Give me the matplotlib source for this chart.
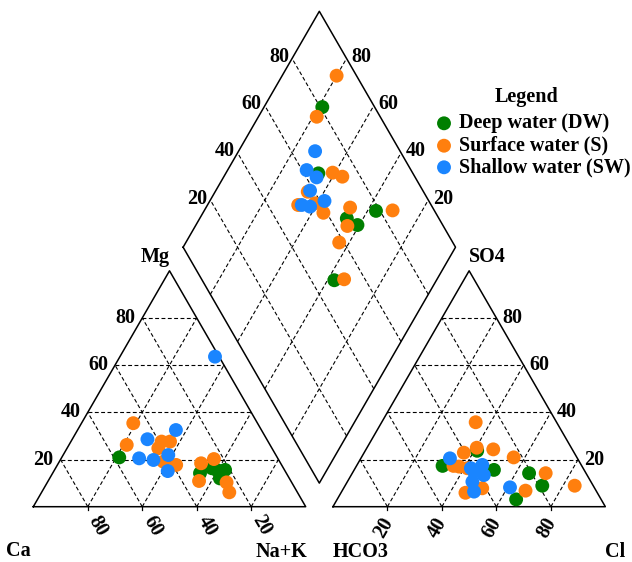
import numpy as np
import matplotlib
matplotlib.use("Agg")
import matplotlib.pyplot as plt

# ---------------- data (percent of meq) ----------------
# Cation triangle: Mg %, Na+K %
dw_mg = [20.9, 14.2, 15.6, 15.6, 12.0, 16.3]
dw_nak = [21.1, 54.1, 59.5, 62.6, 62.5, 57.4]
s_mg = [35.4, 26.2, 27.6, 27.6, 24.8, 19.1, 17.7, 18.4, 20.2, 10.9, 10.3, 6.1]
s_nak = [19.0, 21.2, 33.3, 36.4, 33.5, 38.2, 43.6, 52.4, 56.2, 55.4, 65.8, 68.9]
sw_mg = [63.6, 32.5, 28.6, 20.5, 19.8, 21.9, 15.1]
sw_nak = [34.9, 36.1, 27.6, 28.6, 34.2, 38.6, 41.8]

# Anion triangle: SO4 %, Cl %
dw_so4 = [23.7, 17.3, 15.6, 14.2, 8.9, 3.1]
dw_cl = [41.1, 31.6, 51.3, 64.9, 72.4, 65.7]
s_so4 = [35.8, 25.0, 22.9, 24.3, 20.9, 17.3, 17.0, 16.3, 7.8, 5.9, 14.2, 6.8, 8.9]
s_cl = [34.5, 40.3, 36.6, 46.7, 55.9, 35.6, 37.8, 41.2, 50.9, 45.7, 71.0, 67.3, 84.3]
sw_so4 = [20.5, 16.3, 17.7, 14.8, 13.4, 10.6, 6.4, 8.2]
sw_cl = [32.7, 42.5, 46.0, 44.4, 48.7, 45.9, 48.6, 60.9]

# Diamond: Ca+Mg %, SO4+Cl %
dw_camg = [78.6, 66.0, 46.0, 40.7, 36.9, 37.5]
dw_sc = [80.8, 65.3, 66.2, 68.7, 78.5, 48.5]
s_camg = [80.0, 78.6, 60.9, 56.5, 66.0, 66.7, 60.9, 55.8, 47.1, 44.2, 30.9, 43.7, 34.1]
s_sc = [92.7, 76.7, 70.7, 73.4, 57.5, 51.2, 57.7, 58.8, 69.7, 64.8, 84.7, 58.3, 52.3]
sw_camg = [71.9, 71.0, 65.8, 65.4, 65.4, 62.0, 57.9]
sw_sc = [68.8, 61.7, 63.8, 58.6, 52.5, 55.2, 61.7]

ticks = [20, 40, 60, 80]
groups = ["Deep water (DW)", "Surface water (S)", "Shallow water (SW)"]
colors = ["#007f00", "#ff7f0e", "#1a85ff"]

# ---------------- geometry ----------------
H = np.sqrt(3) / 2
OFF = 1.1


def cat_xy(mg, nak):
    mg = np.asarray(mg) / 100.0
    nak = np.asarray(nak) / 100.0
    return nak + mg / 2, mg * H


def an_xy(so4, cl):
    so4 = np.asarray(so4) / 100.0
    cl = np.asarray(cl) / 100.0
    return OFF + cl + so4 / 2, so4 * H


def dia_xy(camg, sc):
    camg = np.asarray(camg) / 100.0
    sc = np.asarray(sc) / 100.0
    return (OFF + 1 - camg + sc) / 2, H * (camg + sc + OFF - 1)


S = 272.4  # px per unit
X0, Y0 = 33.3, 506.7


def P(px, py):
    return (px - X0) / S, (Y0 - py) / S


fig = plt.figure(figsize=(6.32, 5.62), dpi=100)
ax = fig.add_axes([0, 0, 1, 1])
ax.set_xlim(P(0, 0)[0], P(632, 0)[0])
ax.set_ylim(P(0, 562)[1], P(0, 0)[1])
ax.axis("off")

FONT = dict(family="Liberation Serif", fontweight="bold", fontsize=14.5)
LW = 1.1
GRID = dict(color="black", lw=0.8, ls=(0, (3.5, 2.2)))
px = 1.0 / S

# ---------- outlines ----------
def line(p, q, **kw):
    ax.plot([p[0], q[0]], [p[1], q[1]], **kw)

# cation triangle
xs, ys = cat_xy([0, 0, 100, 0], [0, 100, 0, 0])
ax.plot(xs, ys, color="black", lw=LW)
# anion triangle
xs, ys = an_xy([0, 0, 100, 0], [0, 100, 0, 0])
ax.plot(xs, ys, color="black", lw=LW)
# diamond
xs, ys = dia_xy([100, 0, 0, 100, 100], [0, 0, 100, 100, 0])
ax.plot(xs, ys, color="black", lw=LW)

# ---------- grids ----------
for v in ticks:
    w = 100 - v
    # cation triangle
    line(cat_xy(v, 0), cat_xy(v, w), **GRID)          # Mg const
    line(cat_xy(0, v), cat_xy(w, v), **GRID)          # Na+K const
    line(cat_xy(0, w), cat_xy(w, 0), **GRID)          # Ca const
    # anion triangle
    line(an_xy(v, 0), an_xy(v, w), **GRID)            # SO4 const
    line(an_xy(0, v), an_xy(w, v), **GRID)            # Cl const
    line(an_xy(0, w), an_xy(w, 0), **GRID)            # HCO3 const
    # diamond
    line(dia_xy(0, v), dia_xy(100, v), **GRID)
    line(dia_xy(v, 0), dia_xy(v, 100), **GRID)
    # bottom ticks
    cx, _ = cat_xy(0, v)
    line((cx, 0), (cx, -3 * px), color="black", lw=0.9)
    axx, _ = an_xy(0, v)
    line((axx, 0), (axx, -3 * px), color="black", lw=0.9)

# ---------- tick labels ----------
for v in ticks:
    # Mg on left edge
    x, y = cat_xy(v, 0)
    ax.text(x - 7 * px, y, str(v), ha="right", va="center", **FONT)
    # Ca along bottom (Ca = 100 - Na)
    x, y = cat_xy(0, 100 - v)
    ax.text(x + 10 * px, y - 19 * px, str(v), ha="center", va="center",
            rotation=-60, **FONT)
    # Cl along bottom
    x, y = an_xy(0, v)
    ax.text(x - 4 * px, y - 21 * px, str(v), ha="center", va="center",
            rotation=60, **FONT)
    # SO4 on right edge
    x, y = an_xy(v, 100 - v)
    ax.text(x + 6 * px, y, str(v), ha="left", va="center", **FONT)
    # diamond upper-left: SO4+Cl
    x, y = dia_xy(100, v)
    ax.text(x - 3 * px, y + 1.5 * px, str(v), ha="right", va="center", **FONT)
    # diamond upper-right: Ca+Mg
    x, y = dia_xy(v, 100)
    ax.text(x + 5 * px, y + 1.5 * px, str(v), ha="left", va="center", **FONT)

# ---------- axis names ----------
names = [("Mg", 155, 257), ("Ca", 18, 551), ("Na+K", 281, 552),
         ("HCO3", 361, 552), ("Cl", 615, 552), ("SO4", 487.5, 257)]
for t, a, b in names:
    ax.text(*P(a, b), t, ha="center", va="center", **FONT)

# ---------- data ----------
MS = 100
cat = [(dw_mg, dw_nak), (s_mg, s_nak), (sw_mg, sw_nak)]
an = [(dw_so4, dw_cl), (s_so4, s_cl), (sw_so4, sw_cl)]
dia = [(dw_camg, dw_sc), (s_camg, s_sc), (sw_camg, sw_sc)]
for i, c in enumerate(colors):
    ax.scatter(*cat_xy(*cat[i]), s=MS, color=c, edgecolors="none", zorder=3 + i)
    ax.scatter(*an_xy(*an[i]), s=MS, color=c, edgecolors="none", zorder=3 + i)
    ax.scatter(*dia_xy(*dia[i]), s=MS, color=c, edgecolors="none", zorder=3 + i)

# ---------- legend ----------
ax.text(*P(527, 97), "Legend", ha="center", va="center", **FONT)
ly = [123.3, 145.7, 167.3]
for i, (g, c) in enumerate(zip(groups, colors)):
    ax.scatter(*P(444, ly[i]), s=MS, color=c, edgecolors="none", zorder=5)
    ax.text(*P(459, ly[i]), g, ha="left", va="center", **FONT)

fig.savefig("out.png", dpi=100)
